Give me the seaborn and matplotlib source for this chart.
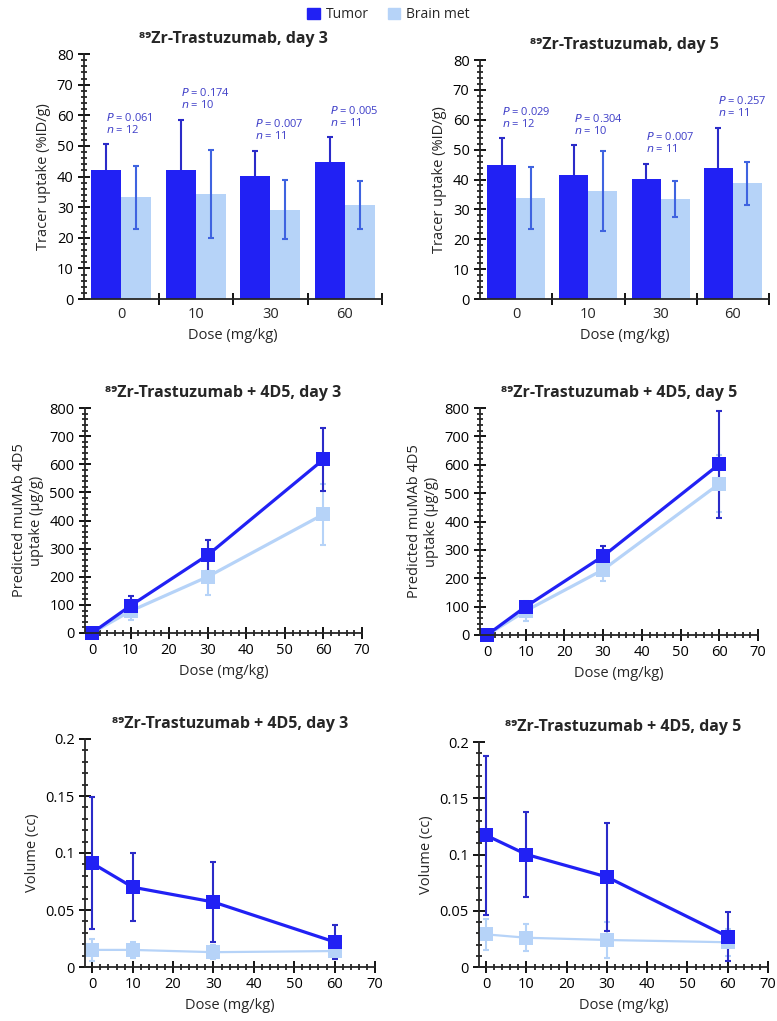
import matplotlib
matplotlib.use("Agg")
import matplotlib.pyplot as plt
import matplotlib.patches as mpatches
from matplotlib.ticker import MultipleLocator
import seaborn as sns
import pandas as pd
import numpy as np

TUMOR = "#2121f4"
BRAIN = "#b6d3f8"
TUMOR_ERR = "#2b2bc8"
BRAIN_ERR = "#3f63e0"
NOTE = "#3e3ec8"

DOSE_LABELS = ["0", "10", "30", "60"]
DOSES = [0, 10, 30, 60]

# tracer uptake (%ID/g), bars
d3_tumor = [42.0, 42.0, 40.2, 44.8]
d3_tumor_err = [8.5, 16.3, 8.0, 8.0]
d3_brain = [33.2, 34.2, 29.2, 30.7]
d3_brain_err = [10.2, 14.3, 9.5, 7.8]
d3_p = ["0.061", "0.174", "0.007", "0.005"]
d3_n = [12, 10, 11, 11]
d3_note_y = [57.1, 65.3, 55.2, 59.4]

d5_tumor = [45.0, 41.5, 40.2, 43.7]
d5_tumor_err = [9.0, 10.0, 5.1, 13.6]
d5_brain = [33.8, 36.2, 33.5, 38.7]
d5_brain_err = [10.4, 13.3, 5.9, 7.3]
d5_p = ["0.029", "0.304", "0.007", "0.257"]
d5_n = [12, 10, 11, 11]
d5_note_y = [60.5, 58.2, 52.2, 64.2]

# predicted muMAb 4D5 uptake (ug/g)
m3_tumor = [0, 97, 277, 617]
m3_tumor_err = [0, 36, 55, 111]
m3_brain = [0, 78, 200, 422]
m3_brain_err = [0, 33, 65, 108]

m5_tumor = [0, 100, 278, 602]
m5_tumor_err = [0, 15, 35, 188]
m5_brain = [0, 85, 230, 533]
m5_brain_err = [0, 35, 40, 100]

# volume (cc)
v3_tumor = [0.091, 0.070, 0.057, 0.022]
v3_tumor_err = [0.058, 0.030, 0.035, 0.015]
v3_brain = [0.015, 0.015, 0.013, 0.014]
v3_brain_err = [0.010, 0.007, 0.006, 0.007]

v5_tumor = [0.117, 0.100, 0.080, 0.027]
v5_tumor_err = [0.071, 0.038, 0.048, 0.022]
v5_brain = [0.029, 0.026, 0.024, 0.022]
v5_brain_err = [0.014, 0.012, 0.016, 0.012]

sns.set_style("ticks")
plt.rcParams["font.family"] = ["Open Sans", "DejaVu Sans"]
plt.rcParams["axes.linewidth"] = 1.3

W, H = 777, 1021
fig = plt.figure(figsize=(W / 100, H / 100), dpi=100)


def make_ax(left, right, top, bottom):
    return fig.add_axes([left / W, 1 - bottom / H, (right - left) / W, (bottom - top) / H])


def style_axis(ax):
    sns.despine(ax=ax)
    ax.tick_params(which="major", direction="inout", length=8, width=1.3, labelsize=10.5, colors="black")
    ax.tick_params(which="minor", direction="inout", length=4, width=1.1, color="black")


def bar_panel(ax, title, tumor, tumor_err, brain, brain_err, p, n, note_y):
    df = pd.DataFrame({
        "Dose": DOSE_LABELS * 2,
        "Uptake": tumor + brain,
        "Group": ["Tumor"] * 4 + ["Brain met"] * 4,
    })
    sns.barplot(data=df, x="Dose", y="Uptake", hue="Group", palette=[TUMOR, BRAIN],
                errorbar=None, width=0.8, ax=ax, legend=False, saturation=1,
                linewidth=0, zorder=2)
    tx = [b.get_x() + b.get_width() / 2 for b in ax.containers[0]]
    bx = [b.get_x() + b.get_width() / 2 for b in ax.containers[1]]
    # tumor bars hide the lower half of their error bars
    ax.errorbar(tx, tumor, yerr=tumor_err, fmt="none", ecolor=TUMOR_ERR,
                elinewidth=1.5, capsize=2.5, capthick=1.5, zorder=1)
    ax.errorbar(bx, brain, yerr=brain_err, fmt="none", ecolor=BRAIN_ERR,
                elinewidth=1.5, capsize=2.5, capthick=1.5, zorder=3)
    for i in range(4):
        ax.text(tx[i], note_y[i], f"$P$ = {p[i]}\n$n$ = {n[i]}", color=NOTE, fontsize=8,
                ha="left", va="center", linespacing=0.95)
    ax.set_xlim(-0.5, 3.5)
    ax.set_ylim(0, 80)
    ax.set_xticks([0.5, 1.5, 2.5, 3.5])
    ax.set_xticklabels([])
    ax.set_xticks([0, 1, 2, 3], minor=True)
    ax.set_xticklabels(DOSE_LABELS, minor=True)
    ax.set_yticks(range(0, 81, 10))
    ax.yaxis.set_minor_locator(MultipleLocator(2))
    style_axis(ax)
    ax.tick_params(axis="x", which="minor", length=0, labelsize=10.5, pad=6)
    ax.set_xlabel("Dose (mg/kg)", fontsize=10.5, labelpad=4)
    ax.set_ylabel("Tracer uptake (%ID/g)", fontsize=10.5, labelpad=4)
    ax.set_title(title, fontsize=11.5, fontweight="bold", pad=8)
    for s in ax.spines.values():
        s.set_zorder(5)


def line_panel(ax, title, tumor, tumor_err, brain, brain_err, ylim, ystep, yminor, ylabel, yfmt, brain_lw):
    df = pd.DataFrame({
        "Dose": DOSES * 2,
        "Value": brain + tumor,
        "Group": ["Brain met"] * 4 + ["Tumor"] * 4,
    })
    ax.errorbar(DOSES, brain, yerr=brain_err, fmt="none", ecolor=BRAIN, elinewidth=1.5,
                capsize=2, capthick=1.5, zorder=1)
    ax.errorbar(DOSES, tumor, yerr=tumor_err, fmt="none", ecolor=TUMOR_ERR, elinewidth=1.5,
                capsize=2, capthick=1.5, zorder=2)
    sns.lineplot(data=df[df.Group == "Brain met"], x="Dose", y="Value", color=BRAIN, marker="s",
                 markersize=9.5, markeredgewidth=0, linewidth=brain_lw, ax=ax, zorder=3)
    sns.lineplot(data=df[df.Group == "Tumor"], x="Dose", y="Value", color=TUMOR, marker="s",
                 markersize=9.5, markeredgewidth=0, linewidth=2.3, ax=ax, zorder=4)
    ax.set_xlim(-1.8, 70)
    ax.set_ylim(*ylim)
    ax.set_xticks(range(0, 71, 10))
    ax.xaxis.set_minor_locator(MultipleLocator(2))
    ax.set_yticks(np.arange(ylim[0], ylim[1] + ystep / 2, ystep))
    ax.yaxis.set_minor_locator(MultipleLocator(yminor))
    ax.set_yticklabels([yfmt(v) for v in ax.get_yticks()])
    style_axis(ax)
    ax.set_xlabel("Dose (mg/kg)", fontsize=10.5, labelpad=4)
    ax.set_ylabel(ylabel, fontsize=10.5, labelpad=4)
    ax.set_title(title, fontsize=11.5, fontweight="bold", pad=8)
    for s in ax.spines.values():
        s.set_zorder(5)
    for art in ax.lines + ax.collections:
        art.set_clip_on(False)


ax1 = make_ax(84, 382, 54, 299)
bar_panel(ax1, "⁸⁹Zr-Trastuzumab, day 3", d3_tumor, d3_tumor_err, d3_brain, d3_brain_err,
          d3_p, d3_n, d3_note_y)
ax2 = make_ax(480, 769, 60, 299)
bar_panel(ax2, "⁸⁹Zr-Trastuzumab, day 5", d5_tumor, d5_tumor_err, d5_brain, d5_brain_err,
          d5_p, d5_n, d5_note_y)

int_fmt = lambda v: f"{int(round(v))}"
vol_fmt = lambda v: f"{v:g}"

ax3 = make_ax(85, 362, 408, 633)
line_panel(ax3, "⁸⁹Zr-Trastuzumab + 4D5, day 3", m3_tumor, m3_tumor_err, m3_brain, m3_brain_err,
           (0, 800), 100, 20, "Predicted muMAb 4D5\nuptake (µg/g)", int_fmt, 2.3)
ax4 = make_ax(480, 758, 408, 635)
line_panel(ax4, "⁸⁹Zr-Trastuzumab + 4D5, day 5", m5_tumor, m5_tumor_err, m5_brain, m5_brain_err,
           (0, 800), 100, 20, "Predicted muMAb 4D5\nuptake (µg/g)", int_fmt, 2.3)
ax5 = make_ax(85, 375, 739, 967)
line_panel(ax5, "⁸⁹Zr-Trastuzumab + 4D5, day 3", v3_tumor, v3_tumor_err, v3_brain, v3_brain_err,
           (0, 0.2), 0.05, 0.01, "Volume (cc)", vol_fmt, 1.6)
ax6 = make_ax(479, 768, 742, 967)
line_panel(ax6, "⁸⁹Zr-Trastuzumab + 4D5, day 5", v5_tumor, v5_tumor_err, v5_brain, v5_brain_err,
           (0, 0.2), 0.05, 0.01, "Volume (cc)", vol_fmt, 1.6)

handles = [mpatches.Patch(color=TUMOR, label="Tumor"), mpatches.Patch(color=BRAIN, label="Brain met")]
fig.legend(handles=handles, loc="upper center", bbox_to_anchor=(0.5, 1.005), ncol=2, frameon=False,
           fontsize=10, handlelength=0.9, handleheight=0.9, handletextpad=0.4, columnspacing=1.4)

fig.savefig("out.png", dpi=100)
